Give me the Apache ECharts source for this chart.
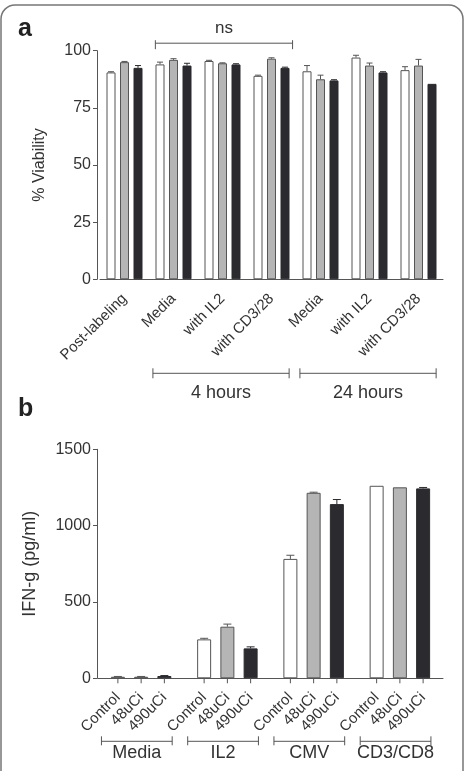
<!DOCTYPE html>
<html>
<head>
<meta charset="utf-8">
<script src="https://cdn.jsdelivr.net/npm/echarts@6/dist/echarts.min.js"></script>
<style>
  html, body { margin: 0; padding: 0; background: #fff; }
  #chart { width: 465px; height: 771px; }
</style>
</head>
<body>
<div id="chart"></div>
<script>
// panel a: viability
const viabCats = ['Post-labeling', 'Media', 'with IL2', 'with CD3/28', 'Media', 'with IL2', 'with CD3/28'];
const viabWhite = [90.5, 94, 95.5, 89, 91, 97, 91.5];
const viabGrey = [95, 96, 94.5, 96.5, 87.5, 93.5, 93.5];
const viabBlack = [92.5, 93.5, 94, 92.5, 87, 90.5, 85.5];
const viabErrWhite = [0.3, 1, 0.3, 0.3, 2.5, 1, 1.5];
const viabErrGrey = [0.3, 0.5, 0.2, 0.4, 1.8, 1.1, 2.7];
const viabErrBlack = [1, 1, 0.3, 0.3, 0.3, 0.3, 0];
const hourLabels = ['4 hours', '24 hours'];
const hourSpans = [[1, 3], [4, 6]];
const nsSpan = [1, 3];

// panel b: IFN-g
const stimCats = ['Media', 'IL2', 'CMV', 'CD3/CD8'];
const doseNames = ['Control', '48uCi', '490uCi'];
const ifnControl = [10, 255, 782, 1261];
const ifn48 = [10, 338, 1215, 1251];
const ifn490 = [15, 196, 1141, 1244];
const ifnErrControl = [2, 7, 24, 0];
const ifnErr48 = [2, 17, 4, 0];
const ifnErr490 = [3, 10, 30, 6];

const FONT = '"Liberation Sans", Arial, sans-serif';
const TXT = '#333';
const AX = '#555';
const fills = ['#ffffff', '#b5b5b5', '#2b2b2f'];
const borders = ['#555', '#555', '#2b2b2f'];

const BW_A = 9, GAP_A = 0.5;
const BW_B = 14, GAP_B = 0.66;

function barOffset(bw, gap, idx) {
  const total = 3 * bw + 2 * gap * bw;
  return -total / 2 + bw / 2 + idx * bw * (1 + gap);
}

function barSeries(axis, idx, vals, bw, gap, label) {
  return {
    type: 'bar', xAxisIndex: axis, yAxisIndex: axis, data: vals,
    barWidth: bw, barGap: (gap * 100) + '%', silent: true,
    itemStyle: { color: fills[idx], borderColor: borders[idx], borderWidth: 1 },
    label: label || { show: false }
  };
}

// error bars (and, for panel b, the small tick under each bar)
function errSeries(axis, idx, vals, errs, bw, gap, capW, withTick) {
  return {
    type: 'custom', xAxisIndex: axis, yAxisIndex: axis, silent: true, z: 5,
    data: vals.map((v, i) => [i, v, errs[i]]),
    encode: { x: 0, y: 1 },
    renderItem: function (params, api) {
      const c = api.value(0), v = api.value(1), e = api.value(2);
      const x = api.coord([c, v])[0] + barOffset(bw, gap, idx);
      const yv = api.coord([c, v])[1];
      const yt = api.coord([c, v + e])[1];
      const y0 = api.coord([c, 0])[1];
      const st = { stroke: idx === 2 ? '#2b2b2f' : '#555', lineWidth: 1 };
      const kids = [];
      if (e > 0) {
        kids.push({ type: 'line', shape: { x1: x, y1: yv, x2: x, y2: yt }, style: st });
        kids.push({ type: 'line', shape: { x1: x - capW / 2, y1: yt, x2: x + capW / 2, y2: yt }, style: st });
      }
      if (withTick) {
        kids.push({ type: 'line', shape: { x1: x, y1: y0, x2: x, y2: y0 + 5 }, style: { stroke: AX, lineWidth: 1 } });
      }
      return { type: 'group', children: kids };
    }
  };
}

// horizontal bracket with end ticks and a text, spanning categories
function bracketSeries(axis, spans, texts, opts) {
  return {
    type: 'custom', xAxisIndex: axis, yAxisIndex: axis, silent: true, z: 6,
    data: spans.map((s, i) => [s[0], s[1], 0, i]),
    encode: { x: [0, 1], y: 2 },
    renderItem: function (params, api) {
      const band = api.size([1, 0])[0];
      const i = api.value(3);
      const x1 = api.coord([api.value(0), 0])[0] - opts.left * band;
      const x2 = api.coord([api.value(1), 0])[0] + opts.right * band;
      const y = opts.y(api);
      const st = { stroke: AX, lineWidth: 1 };
      return {
        type: 'group',
        children: [
          { type: 'line', shape: { x1: x1, y1: y, x2: x2, y2: y }, style: st },
          { type: 'line', shape: { x1: x1, y1: y - opts.up, x2: x1, y2: y + opts.down }, style: st },
          { type: 'line', shape: { x1: x2, y1: y - opts.up, x2: x2, y2: y + opts.down }, style: st },
          { type: 'text', style: { text: texts[i], x: (x1 + x2) / 2, y: y + opts.textDy, align: 'center', verticalAlign: 'middle', fill: TXT, font: opts.font } }
        ]
      };
    }
  };
}

const yAxisBase = {
  axisLine: { show: true, lineStyle: { color: AX } },
  axisTick: { show: true, length: 4, lineStyle: { color: AX } },
  splitLine: { show: false },
  axisLabel: { color: TXT, fontSize: 16, fontFamily: FONT, margin: 6, formatter: v => String(v) },
  nameLocation: 'middle'
};

const doseLabel = k => ({
  show: true, position: 'bottom', distance: 17, rotate: 45, align: 'right', verticalAlign: 'middle',
  formatter: doseNames[k], color: TXT, fontSize: 15, fontFamily: FONT
});

const option = {
  animation: false,
  backgroundColor: '#fff',
  textStyle: { fontFamily: FONT },
  grid: [
    { left: 100, right: 22, top: 50.7, bottom: 771 - 279.3 },
    { left: 98, right: 22, top: 449.3, bottom: 771 - 678.3 }
  ],
  xAxis: [
    {
      type: 'category', gridIndex: 0, data: viabCats,
      axisLine: { lineStyle: { color: AX } },
      axisTick: { alignWithLabel: true, length: 5, lineStyle: { color: AX } },
      axisLabel: { rotate: 45, interval: 0, margin: 17, color: TXT, fontSize: 15, fontFamily: FONT }
    },
    {
      type: 'category', gridIndex: 1, data: stimCats,
      axisLine: { lineStyle: { color: AX } },
      axisTick: { show: false },
      axisLabel: { show: false }
    }
  ],
  yAxis: [
    Object.assign({}, yAxisBase, {
      type: 'value', gridIndex: 0, min: 0, max: 100, interval: 25, offset: 3,
      name: '% Viability', nameGap: 49,
      nameTextStyle: { color: TXT, fontFamily: FONT, fontSize: 16 }
    }),
    Object.assign({}, yAxisBase, {
      type: 'value', gridIndex: 1, min: 0, max: 1500, interval: 500, offset: 1,
      name: 'IFN-g (pg/ml)', nameGap: 58,
      nameTextStyle: { color: TXT, fontFamily: FONT, fontSize: 18 }
    })
  ],
  graphic: [
    { type: 'rect', shape: { x: 1, y: 5, width: 462, height: 800, r: 14 }, style: { fill: 'none', stroke: '#777', lineWidth: 1.5 }, silent: true },
    { type: 'text', left: 18, top: 17, style: { text: 'a', font: 'bold 25px ' + FONT, fill: '#222' } },
    { type: 'text', left: 18, top: 397, style: { text: 'b', font: 'bold 25px ' + FONT, fill: '#222' } }
  ],
  series: [
    barSeries(0, 0, viabWhite, BW_A, GAP_A),
    barSeries(0, 1, viabGrey, BW_A, GAP_A),
    barSeries(0, 2, viabBlack, BW_A, GAP_A),
    errSeries(0, 0, viabWhite, viabErrWhite, BW_A, GAP_A, 6, false),
    errSeries(0, 1, viabGrey, viabErrGrey, BW_A, GAP_A, 6, false),
    errSeries(0, 2, viabBlack, viabErrBlack, BW_A, GAP_A, 6, false),
    bracketSeries(0, [nsSpan], ['ns'], {
      left: 0.37, right: 0.43, up: 3, down: 6, textDy: -15,
      y: api => api.coord([0, 100])[1] - 7.5, font: '17px ' + FONT
    }),
    bracketSeries(0, hourSpans, hourLabels, {
      left: 0.42, right: 0.36, up: 5, down: 5, textDy: 20,
      y: api => api.coord([0, 0])[1] + 94, font: '18px ' + FONT
    }),

    barSeries(1, 0, ifnControl, BW_B, GAP_B, doseLabel(0)),
    barSeries(1, 1, ifn48, BW_B, GAP_B, doseLabel(1)),
    barSeries(1, 2, ifn490, BW_B, GAP_B, doseLabel(2)),
    errSeries(1, 0, ifnControl, ifnErrControl, BW_B, GAP_B, 8, true),
    errSeries(1, 1, ifn48, ifnErr48, BW_B, GAP_B, 8, true),
    errSeries(1, 2, ifn490, ifnErr490, BW_B, GAP_B, 8, true),
    bracketSeries(1, [[0, 0], [1, 1], [2, 2], [3, 3]], stimCats, {
      left: 0.46, right: 0.36, up: 5, down: 4, textDy: 12,
      y: api => api.coord([0, 0])[1] + 63, font: '18px ' + FONT
    })
  ]
};

const chart = echarts.init(document.getElementById('chart'), null, { renderer: 'canvas' });
chart.setOption(option);
</script>
</body>
</html>
